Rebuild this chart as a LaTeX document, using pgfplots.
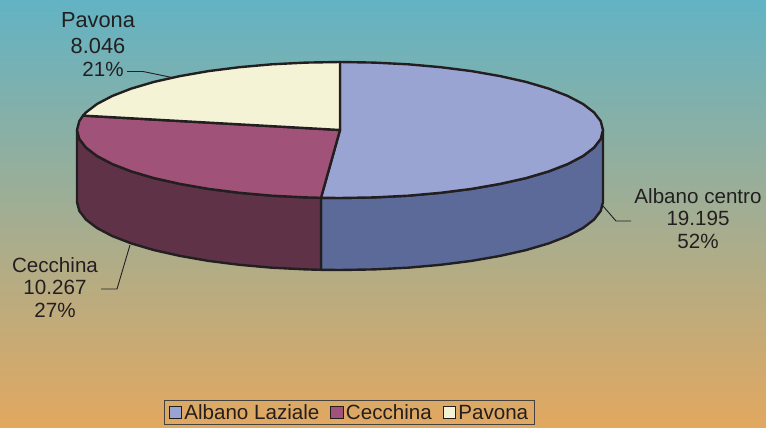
\documentclass[border=0pt]{standalone}
\usepackage{fontspec}
\setmainfont{Liberation Sans}
\usepackage{pgfplots}
\pgfplotsset{compat=1.18}
\definecolor{bgtop}{HTML}{62B3C4}
\definecolor{bgbot}{HTML}{E2A860}
\definecolor{ink}{HTML}{231F20}
\definecolor{blutop}{HTML}{9AA4D2}
\definecolor{bluside}{HTML}{5B6A99}
\definecolor{magtop}{HTML}{A05278}
\definecolor{magside}{HTML}{5F3248}
\definecolor{cream}{HTML}{F5F3D6}
\tikzset{
  lbl/.style={text=ink,align=center,inner sep=0pt,font=\fontsize{20.6}{22.5}\selectfont},
  lblbig/.style={text=ink,align=center,inner sep=0pt,font=\fontsize{21.8}{26}\selectfont},
}
\pgfplotsset{
  slice/.style={draw=ink,line width=2.4pt,line join=round,no marks,forget plot},
  leader/.style={draw=ink,line width=0.9pt,no marks,forget plot},
}
\begin{document}
\begin{tikzpicture}
\begin{axis}[
  scale only axis,width=766pt,height=428pt,
  xmin=0,xmax=766,ymin=0,ymax=428,y dir=reverse,
  ticks=none,axis line style={draw=none},
  axis background/.style={top color=bgtop,bottom color=bgbot,middle color=bgtop!50!bgbot},
  legend columns=3,
  legend style={at={(axis cs:349.5,412.5)},anchor=center,draw=ink!85,line width=1pt,fill=none,
    font=\fontsize{20.6}{22}\selectfont,text=ink,inner xsep=4.75pt,inner ysep=2pt,
    /tikz/column sep=0pt,/tikz/every even column/.append style={column sep=9pt}},
  legend image code/.code={\draw[line width=1pt,draw=ink,#1] (0pt,-6pt) rectangle (12.5pt,6.5pt);},
]
% side of the Albano slice
\addplot[slice,fill=bluside] coordinates {
(603,130)(603,202)(600.7,210.9)(594,219.6)(583,228)(567.8,236)(548.7,243.4)(526,250.1)(500.1,255.9)(471.5,260.9)(440.6,264.8)(408.1,267.7)(374.3,269.4)(340,270)(321,269.8)
(321,197.8)(340,198)(374.3,197.4)(408.1,195.7)(440.6,192.8)(471.5,188.9)(500.1,183.9)(526,178.1)(548.7,171.4)(567.8,164)(583,156)(594,147.6)(600.7,138.9)
} --cycle;
% side of the Cecchina slice
\addplot[slice,fill=magside] coordinates {
(321,197.8)(321,269.8)(305.7,269.4)(271.9,267.7)(239.4,264.8)(208.5,260.9)(179.9,255.9)(154,250.1)(131.3,243.4)(112.2,236)(97,228)(86,219.6)(79.3,210.9)(77,202)
(77,130)(79.3,138.9)(86,147.6)(97,156)(112.2,164)(131.3,171.4)(154,178.1)(179.9,183.9)(208.5,188.9)(239.4,192.8)(271.9,195.7)(305.7,197.4)
} --cycle;
% top faces
\addplot[slice,fill=blutop] coordinates {
(340,130)(340,62)(374.3,62.6)(408.1,64.3)(440.6,67.2)(471.5,71.1)(500.1,76.1)(526,81.9)(548.7,88.6)(567.8,96)(583,104)(594,112.4)(600.7,121.1)(603,130)
(600.7,138.9)(594,147.6)(583,156)(567.8,164)(548.7,171.4)(526,178.1)(500.1,183.9)(471.5,188.9)(440.6,192.8)(408.1,195.7)(374.3,197.4)(340,198)(321,197.8)
} --cycle;
\addplot[slice,fill=magtop] coordinates {
(340,130)(321,197.8)(305.7,197.4)(271.9,195.7)(239.4,192.8)(208.5,188.9)(179.9,183.9)(154,178.1)(131.3,171.4)(112.2,164)(97,156)(86,147.6)(79.3,138.9)(77,130)(79.3,121.1)(83,115.6)
} --cycle;
\addplot[slice,fill=cream] coordinates {
(340,130)(83,115.6)(86,112.4)(97,104)(112.2,96)(131.3,88.6)(154,81.9)(179.9,76.1)(208.5,71.1)(239.4,67.2)(271.9,64.3)(305.7,62.6)(340,62)
} --cycle;
% leader lines
\addplot[leader] coordinates {(127,71.5)(143,71.5)(172,77.5)};
\addplot[leader] coordinates {(101,289)(117,289)(130,245)};
\addplot[leader] coordinates {(603,206)(616,221)(631,221)};
% labels
\node[lblbig] at (axis cs:98,33.5) {Pavona\\8.046};
\node[lbl] at (axis cs:103,69.5) {21\%};
\node[lbl] at (axis cs:55,287.5) {Cecchina\\10.267\\27\%};
\node[lbl] at (axis cs:698,218.5) {Albano centro\\19.195\\52\%};
% legend
\addlegendimage{fill=blutop}\addlegendentry{\strut Albano Laziale}
\addlegendimage{fill=magtop}\addlegendentry{\strut Cecchina}
\addlegendimage{fill=cream}\addlegendentry{\strut Pavona}
\end{axis}
\end{tikzpicture}
\end{document}
